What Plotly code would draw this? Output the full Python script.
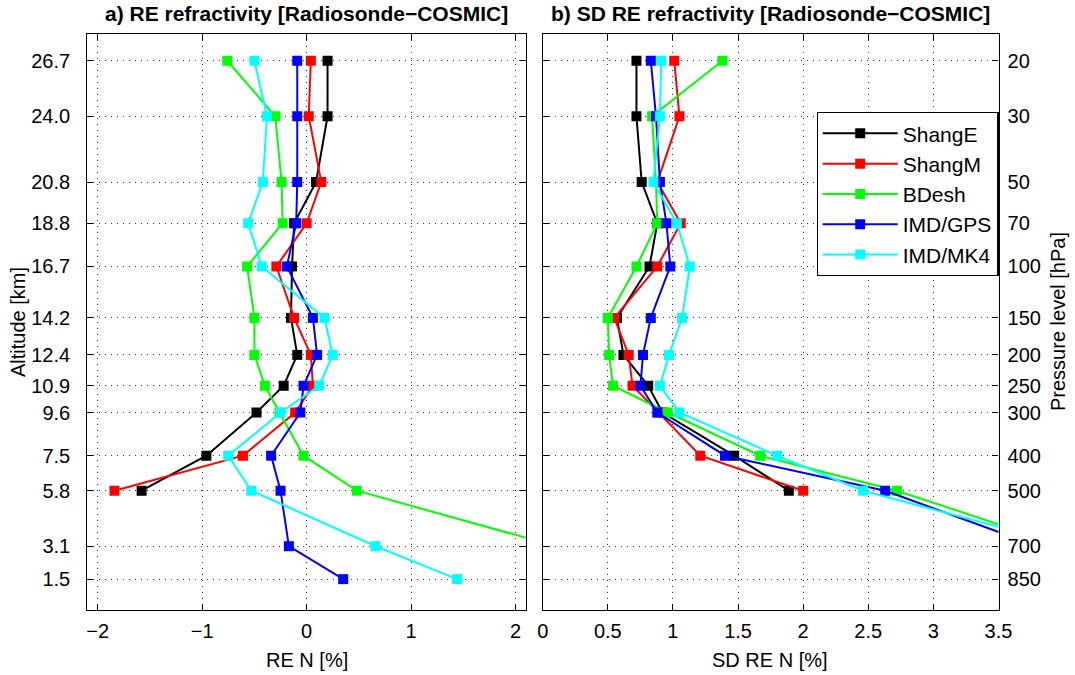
import plotly.graph_objects as go

# ---------------- data ----------------
altitude_km = [26.7, 24.0, 20.8, 18.8, 16.7, 14.2, 12.4, 10.9, 9.6, 7.5, 5.8, 3.1, 1.5]
pressure_hpa = ["20", "30", "50", "70", "100", "150", "200", "250", "300", "400", "500", "700", "850"]
altitude_labels = ["26.7", "24.0", "20.8", "18.8", "16.7", "14.2", "12.4", "10.9", "9.6", "7.5", "5.8", "3.1", "1.5"]

series_names = ["ShangE", "ShangM", "BDesh", "IMD/GPS", "IMD/MK4"]
series_colors = ["#000000", "#ff0000", "#00ff00", "#0000ff", "#00ffff"]

# a) RE refractivity [%]
re_shangE = [0.20, 0.20, 0.09, -0.12, -0.14, -0.15, -0.09, -0.22, -0.48, -0.96, -1.58, None, None]
re_shangM = [0.04, 0.02, 0.14, 0.00, -0.29, -0.12, 0.04, 0.06, -0.11, -0.61, -1.84, None, None]
re_bdesh = [-0.76, -0.30, -0.24, -0.23, -0.57, -0.50, -0.50, -0.40, -0.26, -0.03, 0.48, 2.39, None]
re_imdgps = [-0.09, -0.09, -0.09, -0.10, -0.19, 0.06, 0.10, -0.03, -0.06, -0.34, -0.25, -0.17, 0.35]
re_imdmk4 = [-0.50, -0.38, -0.42, -0.56, -0.43, 0.17, 0.25, 0.12, -0.25, -0.75, -0.53, 0.66, 1.44]

# b) SD RE refractivity [%]
sd_shangE = [0.72, 0.72, 0.76, 0.88, 0.82, 0.57, 0.62, 0.81, 0.92, 1.47, 1.89, None, None]
sd_shangM = [1.01, 1.05, 0.88, 1.06, 0.88, 0.55, 0.66, 0.69, 0.89, 1.21, 2.00, None, None]
sd_bdesh = [1.38, 0.84, 0.87, 0.88, 0.72, 0.50, 0.51, 0.54, 0.96, 1.67, 2.72, 4.01, None]
sd_imdgps = [0.83, 0.87, 0.90, 0.95, 0.98, 0.83, 0.77, 0.75, 0.88, 1.40, 2.63, 3.80, None]
sd_imdmk4 = [0.91, 0.90, 0.85, 1.03, 1.13, 1.07, 0.97, 0.90, 1.05, 1.80, 2.46, 4.06, None]

re_values = [re_shangE, re_shangM, re_bdesh, re_imdgps, re_imdmk4]
sd_values = [sd_shangE, sd_shangM, sd_bdesh, sd_imdgps, sd_imdmk4]

re_ticks = [-2, -1, 0, 1, 2]
sd_ticks = [0, 0.5, 1, 1.5, 2, 2.5, 3, 3.5]
sd_ticktext = ["0", "0.5", "1", "1.5", "2", "2.5", "3", "3.5"]

# ---------------- figure ----------------
W, H = 1075, 675
FONT = "Liberation Sans, Arial, Helvetica, sans-serif"

fig = go.Figure()

for name, color, vals in zip(series_names, series_colors, re_values):
    fig.add_trace(go.Scatter(
        x=vals, y=altitude_km, mode="lines+markers", name=name,
        line=dict(color=color, width=2),
        marker=dict(symbol="square", size=10, color=color),
        xaxis="x", yaxis="y", showlegend=False, connectgaps=False, cliponaxis=True))

for name, color, vals in zip(series_names, series_colors, sd_values):
    fig.add_trace(go.Scatter(
        x=vals, y=altitude_km, mode="lines+markers", name=name,
        line=dict(color=color, width=2),
        marker=dict(symbol="square", size=10, color=color),
        xaxis="x2", yaxis="y2", showlegend=True, connectgaps=False, cliponaxis=True))

# pixel -> paper helpers
def px(x):
    return x / W

def py(y):
    return 1 - y / H

left_dom = [px(87.3), px(526.0)]
right_dom = [px(542.7), px(998.5)]
y_dom = [py(610), py(34)]

grid = dict(showgrid=True, gridcolor="#333333", gridwidth=1, griddash="1px,5px")
frame = dict(showline=True, linecolor="black", linewidth=1.2, mirror="ticks",
             ticks="inside", ticklen=6, tickcolor="black", zeroline=False)
tickfont = dict(family=FONT, size=20, color="black")

fig.update_layout(
    width=W, height=H,
    margin=dict(l=0, r=0, t=0, b=0),
    paper_bgcolor="white", plot_bgcolor="white",
    font=dict(family=FONT, size=20, color="black"),
    xaxis=dict(domain=left_dom, range=[-2.1, 2.1], tickvals=re_ticks, tickfont=tickfont,
               anchor="y", automargin=False, ticklabelstandoff=3, **grid, **frame),
    yaxis=dict(domain=y_dom, range=[0, 28], tickvals=altitude_km, ticktext=altitude_labels,
               tickfont=tickfont, anchor="x", automargin=False, ticklabelstandoff=12,
               **grid, **frame),
    xaxis2=dict(domain=right_dom, range=[0, 3.5], tickvals=sd_ticks, ticktext=sd_ticktext,
                tickfont=tickfont, anchor="y2", automargin=False, ticklabelstandoff=3,
                **grid, **frame),
    yaxis2=dict(domain=y_dom, range=[0, 28], tickvals=altitude_km, ticktext=pressure_hpa,
                tickfont=tickfont, anchor="x2", side="right", automargin=False,
                ticklabelstandoff=4, **grid, **frame),
    legend=dict(x=px(998.5), y=py(112), xanchor="right", yanchor="top",
                bgcolor="white", bordercolor="black", borderwidth=1.2,
                font=dict(family=FONT, size=21, color="black"),
                itemwidth=75, tracegroupgap=0),
    showlegend=True,
)

annotations = [
    dict(text="<b>a) RE refractivity [Radiosonde\u2212COSMIC]</b>", x=px(306.5), y=py(13),
         font=dict(family=FONT, size=21)),
    dict(text="<b>b) SD RE refractivity [Radiosonde\u2212COSMIC]</b>", x=px(770), y=py(13),
         font=dict(family=FONT, size=21)),
    dict(text="RE N [%]", x=px(306.5), y=py(660), font=dict(family=FONT, size=20)),
    dict(text="SD RE N [%]", x=px(770), y=py(660), font=dict(family=FONT, size=20)),
    dict(text="Altitude [km]", x=px(18), y=py(322), textangle=-90, font=dict(family=FONT, size=20)),
    dict(text="Pressure level [hPa]", x=px(1058), y=py(322), textangle=-90, font=dict(family=FONT, size=20)),
]
for a in annotations:
    a.update(xref="paper", yref="paper", showarrow=False, xanchor="center", yanchor="middle")
fig.update_layout(annotations=annotations)

fig.write_html("out.html", config={"displayModeBar": False},
               post_script="document.body.style.margin='0';")
